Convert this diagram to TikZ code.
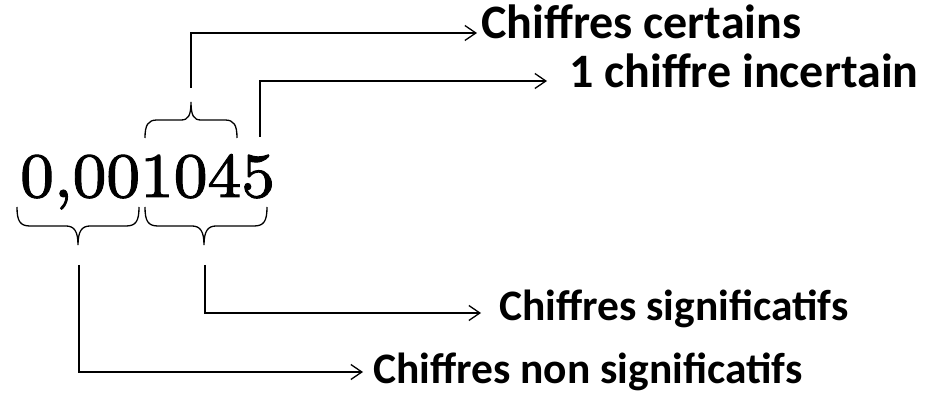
\documentclass[tikz,border=0pt]{standalone}
\usepackage{fontspec}
\newfontfamily\carlito{Carlito}
\newfontfamily\numfont{lmroman8-regular.otf}[FakeBold=1.5]
\usetikzlibrary{arrows.meta,calc}
\begin{document}
\begin{tikzpicture}[x=1pt,y=-1pt,
  line/.style={line width=1.3pt, line cap=butt, line join=miter},
  arr/.style={line, -{Straight Barb[length=11pt,width=15pt,line width=1.3pt]}},
  lbl/.style={anchor=base west, inner sep=0pt, font=\carlito\bfseries\fontsize{#1}{#1}\selectfont},
  bracepath/.style={line}]
\useasboundingbox (0,0) rectangle (935,395);
% number
\node[anchor=base west, inner sep=0pt, font=\numfont\fontsize{63.5}{63.5}\selectfont] (num) at (20,197) {0,001045};
% top brace over 104
\draw[bracepath] (145,138) .. controls (145,125) and (148,120) .. (157,120) -- (181,120)
  .. controls (188,120) and (191,116) .. (191,102)
  .. controls (191,116) and (194,120) .. (201,120) -- (225,120)
  .. controls (234,120) and (237,125) .. (237,138);
% bottom braces
\draw[bracepath] (17,207) .. controls (17,221) and (20,226) .. (30,226) -- (66,226)
  .. controls (74,226) and (78,231) .. (78,245)
  .. controls (78,231) and (82,226) .. (90,226) -- (126,226)
  .. controls (136,226) and (139,221) .. (139,207);
\draw[bracepath] (145,207) .. controls (145,221) and (148,226) .. (158,226) -- (192,226)
  .. controls (200,226) and (204,231) .. (204,245)
  .. controls (204,231) and (208,226) .. (216,226) -- (254,226)
  .. controls (264,226) and (267,221) .. (267,207);
% labels
\node[lbl=48] (certains) at (481,39) {Chiffres certains};
\node[lbl=48] (incertain) at (569,88) {1 chiffre incertain};
\node[lbl=43.5] (sig) at (499,321) {Chiffres significatifs};
\node[lbl=43.5] (nonsig) at (373,384) {Chiffres non significatifs};
% connector starts
\coordinate (tA) at (191,88);
\coordinate (tB) at (260,137);
\coordinate (bA) at (205,265);
\coordinate (bB) at (79,265);
% connectors
\draw[arr] (tA) |- ([xshift=-4pt,yshift=6pt]certains.base west);
\draw[arr] (tB) |- ([xshift=-22pt,yshift=7pt]incertain.base west);
\draw[arr] (bA) |- ([xshift=-18pt,yshift=8pt]sig.base west);
\draw[arr] (bB) |- ([xshift=-10pt,yshift=12pt]nonsig.base west);
\end{tikzpicture}
\end{document}
